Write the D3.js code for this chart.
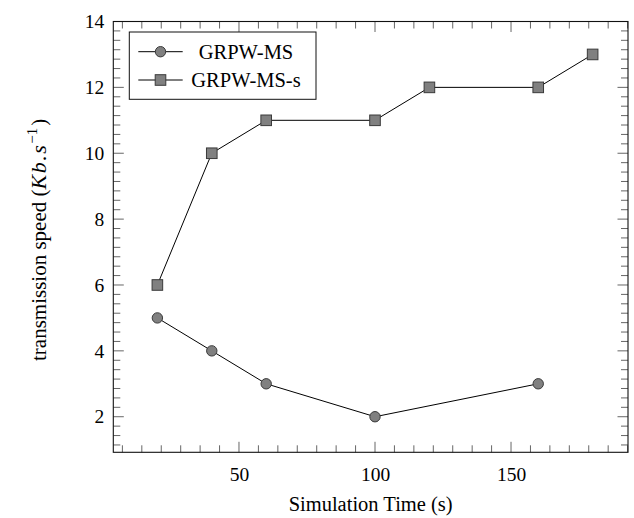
<!DOCTYPE html>
<html>
<head>
<meta charset="utf-8">
<script src="https://cdn.jsdelivr.net/npm/d3@7"></script>
<style>
  html, body { margin: 0; padding: 0; background: #fff; }
  svg { display: block; }
</style>
</head>
<body>
<div id="chart"></div>
<script>
// ---- data ----
const seriesNames = ["GRPW-MS", "GRPW-MS-s"];
const msTime = [20, 40, 60, 100, 160];
const msSpeed = [5, 4, 3, 2, 3];
const mssTime = [20, 40, 60, 100, 120, 160, 180];
const mssSpeed = [6, 10, 11, 11, 12, 12, 13];
const xTicks = [50, 100, 150];
const yTicks = [2, 4, 6, 8, 10, 12, 14];
const xLabel = "Simulation Time (s)";

// ---- layout ----
const W = 634, H = 518;
const L = 113.3, R = 628, T = 21.5, B = 452.3;
const FONT = '"Liberation Serif"';

const svg = d3.select("#chart").append("svg").attr("width", W).attr("height", H);

const x = d3.scaleLinear().domain([3.8, 193]).range([L, R]);
const y = d3.scaleLinear().domain([0.92, 14]).range([B, T]);

const xMinor = d3.range(0, 200, 50 / 7).filter(v => v > 3.8 && v < 193.2 && Math.abs(v / 50 - Math.round(v / 50)) > 1e-6);
const yMinor = d3.range(0, 14.01, 2 / 7).filter(v => v > 0.92 && v < 14 && Math.abs(v / 2 - Math.round(v / 2)) > 1e-6);

const g = svg.append("g");
const majLen = 10.5, minLen = 7;

const tickColor = "#555";
function vTick(px, len, yy, dir) {
  g.append("line").attr("x1", px).attr("x2", px).attr("y1", yy).attr("y2", yy + dir * len)
    .attr("stroke", tickColor).attr("stroke-width", 0.9);
}
function hTick(py, len, xx, dir) {
  g.append("line").attr("y1", py).attr("y2", py).attr("x1", xx).attr("x2", xx + dir * len)
    .attr("stroke", tickColor).attr("stroke-width", 0.9);
}
xMinor.forEach(v => { vTick(x(v), minLen, B, -1); vTick(x(v), minLen, T, 1); });
xTicks.forEach(v => { vTick(x(v), majLen, B, -1); vTick(x(v), majLen, T, 1); });
yMinor.forEach(v => { hTick(y(v), minLen, L, 1); hTick(y(v), minLen, R, -1); });
yTicks.forEach(v => { hTick(y(v), majLen, L, 1); hTick(y(v), majLen, R, -1); });

g.append("rect").attr("x", L).attr("y", T).attr("width", R - L).attr("height", B - T)
  .attr("fill", "none").attr("stroke", "#111").attr("stroke-width", 1.1);

// Tick labels via axes
const xAxis = d3.axisBottom(x).tickValues(xTicks).tickSize(0).tickPadding(12);
const xa = svg.append("g").attr("transform", `translate(0,${B})`).call(xAxis);
xa.select(".domain").remove();
xa.selectAll("text").style("font-family", FONT).style("font-size", "19.5px").attr("fill", "#000").attr("dy", "0.85em");

const yAxis = d3.axisLeft(y).tickValues(yTicks).tickSize(0).tickPadding(9);
const ya = svg.append("g").attr("transform", `translate(${L},0)`).call(yAxis);
ya.select(".domain").remove();
ya.selectAll("text").style("font-family", FONT).style("font-size", "19.5px").attr("fill", "#000");

// Axis titles
svg.append("text").attr("x", (L + R) / 2).attr("y", 511).attr("text-anchor", "middle")
  .style("font-family", FONT).style("font-size", "20.5px").text(xLabel);

const yl = svg.append("text").attr("transform", `translate(46,${(T + B) / 2 + 3}) rotate(-90)`)
  .attr("text-anchor", "middle").style("font-family", FONT).style("font-size", "21px");
yl.append("tspan").text("transmission speed (");
yl.append("tspan").style("font-style", "italic").style("font-size", "22px").style("letter-spacing", "1.5px").text("Kb.s");
yl.append("tspan").style("font-size", "15px").attr("dy", "-0.6em").text("\u22121");
yl.append("tspan").attr("dy", "0.43em").attr("dx", "2").text(")");

// Lines and markers
const line = d3.line().x(d => x(d[0])).y(d => y(d[1]));
const msData = msTime.map((t, i) => [t, msSpeed[i]]);
const mssData = mssTime.map((t, i) => [t, mssSpeed[i]]);
const fill = "#808080", mstroke = "#3a3a3a";

svg.append("path").datum(msData).attr("d", line).attr("fill", "none").attr("stroke", "#000").attr("stroke-width", 1);
svg.append("path").datum(mssData).attr("d", line).attr("fill", "none").attr("stroke", "#000").attr("stroke-width", 1);

svg.selectAll(".c").data(msData).enter().append("circle")
  .attr("cx", d => x(d[0])).attr("cy", d => y(d[1])).attr("r", 5.2)
  .attr("fill", fill).attr("stroke", mstroke).attr("stroke-width", 1);
const s = 10.6;
svg.selectAll(".s").data(mssData).enter().append("rect")
  .attr("x", d => x(d[0]) - s / 2).attr("y", d => y(d[1]) - s / 2).attr("width", s).attr("height", s)
  .attr("fill", fill).attr("stroke", mstroke).attr("stroke-width", 1);

// Legend
const lg = svg.append("g");
lg.append("rect").attr("x", 129.3).attr("y", 32).attr("width", 186.7).attr("height", 67.3)
  .attr("fill", "#fff").attr("stroke", "#111").attr("stroke-width", 1);
const rows = [51.7, 80];
rows.forEach((ry, i) => {
  lg.append("line").attr("x1", 138.3).attr("x2", 182.7).attr("y1", ry).attr("y2", ry)
    .attr("stroke", "#000").attr("stroke-width", 1);
  if (i === 0) {
    lg.append("circle").attr("cx", 160.5).attr("cy", ry).attr("r", 5.2)
      .attr("fill", fill).attr("stroke", mstroke).attr("stroke-width", 1);
  } else {
    lg.append("rect").attr("x", 160.5 - s / 2).attr("y", ry - s / 2).attr("width", s).attr("height", s)
      .attr("fill", fill).attr("stroke", mstroke).attr("stroke-width", 1);
  }
  lg.append("text").attr("x", 246).attr("y", ry).attr("dy", "0.35em").attr("text-anchor", "middle")
    .style("font-family", FONT).style("font-size", "20.5px").text(seriesNames[i]);
});
</script>
</body>
</html>
